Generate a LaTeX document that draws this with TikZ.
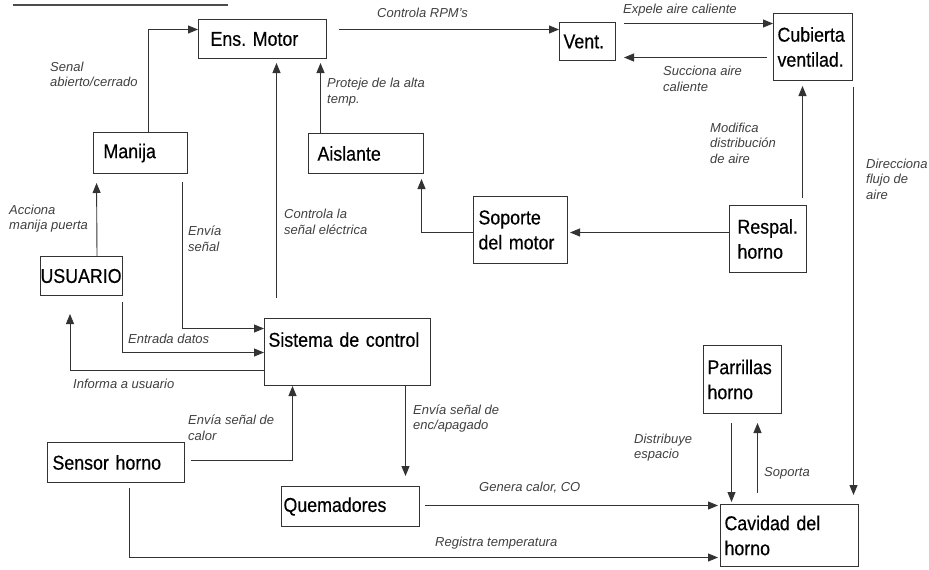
\documentclass[tikz,border=0pt]{standalone}
\usepackage{fontspec}
\setmainfont{Liberation Sans}
\newfontfamily\boxfont{Liberation Sans}[FakeStretch=0.89,WordSpace=0.85,FakeBold=0.4]
\usetikzlibrary{arrows.meta}
\frenchspacing

\begin{document}
\begin{tikzpicture}[x=1pt,y=-1pt,
  blk/.style={draw=black!80,line width=1pt,anchor=north west,align=left,
    inner ysep=0pt,font=\boxfont\fontsize{20}{25}\selectfont},
  lbl/.style={anchor=west,align=left,inner sep=0pt,text=black!75,
    font=\itshape\fontsize{13}{15.5}\selectfont},
  arr/.style={draw=black!80,line width=0.9pt,-{Triangle[length=10pt,width=8pt]}}]
  \fill[white] (0,0) rectangle (929,570);
  \useasboundingbox (0,0) rectangle (929,570);
  \draw[black!70,line width=1.4pt] (13,5) -- (228,5);

  % bloques
  \node[blk,text width=104pt,inner xsep=12pt,minimum height=39pt] (motor) at (198,19) {Ens. Motor};
  \node[blk,text width=48pt,inner xsep=4pt,minimum height=38pt] (vent) at (559,22) {Vent.};
  \node[blk,text width=71pt,inner xsep=4pt,minimum height=67pt] (cubierta) at (773,13) {Cubierta\\ventilad.};
  \node[blk,text width=74pt,inner xsep=10pt,minimum height=41pt] (manija) at (93,132) {Manija};
  \node[blk,text width=97pt,inner xsep=9pt,minimum height=40pt] (aislante) at (308,133) {Aislante};
  \node[blk,text width=84pt,inner xsep=5pt,minimum height=67pt] (soporte) at (473,196) {Soporte\\del motor};
  \node[blk,text width=61pt,inner xsep=8pt,minimum height=67pt] (respal) at (729,205) {Respal.\\horno};
  \node[blk,text width=82pt,inner xsep=0pt,minimum height=39pt] (usuario) at (40,256) {USUARIO};
  \node[blk,text width=158pt,inner xsep=4pt,minimum height=67pt] (sistema) at (264,318) {Sistema de control\\\mbox{}};
  \node[blk,text width=70pt,inner xsep=4pt,minimum height=68pt] (parrillas) at (703,345) {Parrillas\\horno};
  \node[blk,text width=127pt,inner xsep=5pt,minimum height=40pt] (sensor) at (47,442) {Sensor horno};
  \node[blk,text width=134pt,inner xsep=2pt,minimum height=40pt] (quemadores) at (281,486) {Quemadores};
  \node[blk,text width=130pt,inner xsep=4pt,minimum height=62pt] (cavidad) at (720,504) {Cavidad del\\horno};

  % flujos
  \draw[arr] ([xshift=8pt]manija.north) |- ([yshift=9.5pt]motor.west);
  \draw[arr] ([xshift=12pt,yshift=9.5pt]motor.east) -- ([yshift=12pt]vent.west);
  \draw[arr] ([xshift=8pt,yshift=18pt]vent.east) -- ([yshift=23.5pt]cubierta.west);
  \draw[arr,shorten >=8pt] ([xshift=-6pt,yshift=-10.5pt]cubierta.west) -- ([yshift=-16pt]vent.east);
  \draw[arr,shorten <=7pt,shorten >=5pt] ([xshift=34.5pt]respal.north) -- ([xshift=-10.5pt]cubierta.south);
  \draw[arr,shorten <=6pt,shorten >=9pt] ([xshift=40.5pt]cubierta.south) -- ([xshift=64pt]cavidad.north);
  \draw[arr,shorten >=2pt] ([yshift=6.5pt]respal.west) -- ([yshift=-2.5pt]soporte.east);
  \draw[arr,shorten >=5pt] ([yshift=-2.5pt]soporte.west) -| ([xshift=55.5pt]aislante.south);
  \draw[arr,shorten >=4pt] ([xshift=-45.5pt]aislante.north) -- ([xshift=58pt]motor.south);
  \draw[arr,shorten <=20pt,shorten >=4pt] ([xshift=-71pt]sistema.north) -- ([xshift=14pt]motor.south);
  \draw[arr,shorten <=8pt] ([xshift=42pt]manija.south) |- ([yshift=23.5pt]sistema.west);
  \draw[arr,shorten <=6pt] ([xshift=40.5pt]usuario.south) |- ([yshift=-0.5pt]sistema.west);
  \draw[arr,shorten >=18pt] ([yshift=-18.5pt]sistema.west) -| ([xshift=-11.5pt]usuario.south);
  \draw[arr,shorten >=9pt] ([xshift=15.5pt]usuario.north) -- ([xshift=-44pt]manija.south);
  \draw[arr,shorten <=6pt] ([yshift=2pt]sensor.east) -| ([xshift=-55pt]sistema.south);
  \draw[arr,shorten >=10pt] ([xshift=58pt]sistema.south) -- ([xshift=55pt]quemadores.north);
  \draw[arr,shorten <=5pt,shorten >=2pt] ([yshift=1pt]quemadores.east) -- ([yshift=30pt]cavidad.west);
  \draw[arr,shorten <=5pt,shorten >=2pt] ([xshift=13.5pt]sensor.south) |- ([yshift=-22pt]cavidad.west);
  \draw[arr,shorten <=9pt,shorten >=2pt] ([xshift=-11pt]parrillas.south) -- ([xshift=-58pt]cavidad.north);
  \draw[arr,shorten <=11pt,shorten >=9pt] ([xshift=-32pt]cavidad.north) -- ([xshift=15pt]parrillas.south);

  % rotulos
  \node[lbl] (lsenal) at (50,74.5) {Senal\\abierto/cerrado};
  \node[lbl] (lrpm) at (377,13) {Controla RPM's};
  \node[lbl] (lexpele) at (623,10) {Expele aire caliente};
  \node[lbl] (lsucc) at (663,79) {Succiona aire\\caliente};
  \node[lbl] (lprot) at (327,92) {Proteje de la alta\\temp.};
  \node[lbl] (lmodif) at (710,143) {Modifica\\distribución\\de aire};
  \node[lbl] (ldirec) at (866,179) {Direcciona\\flujo de\\aire};
  \node[lbl] (lacc) at (9,218.5) {Acciona\\manija puerta};
  \node[lbl] (lenvia) at (188,239) {Envía\\señal};
  \node[lbl] (lcontr) at (284,222) {Controla la\\señal eléctrica};
  \node[lbl] (lentr) at (128,339) {Entrada datos};
  \node[lbl] (linfo) at (73,384) {Informa a usuario};
  \node[lbl] (lcalor) at (188,428) {Envía señal de\\calor};
  \node[lbl] (lenc) at (413,418.5) {Envía señal de\\enc/apagado};
  \node[lbl] (ldistr) at (634,447.5) {Distribuye\\espacio};
  \node[lbl] (lsop) at (764,473) {Soporta};
  \node[lbl] (lgen) at (479,488) {Genera calor, CO};
  \node[lbl] (lreg) at (435,543) {Registra temperatura};
\end{tikzpicture}
\end{document}
